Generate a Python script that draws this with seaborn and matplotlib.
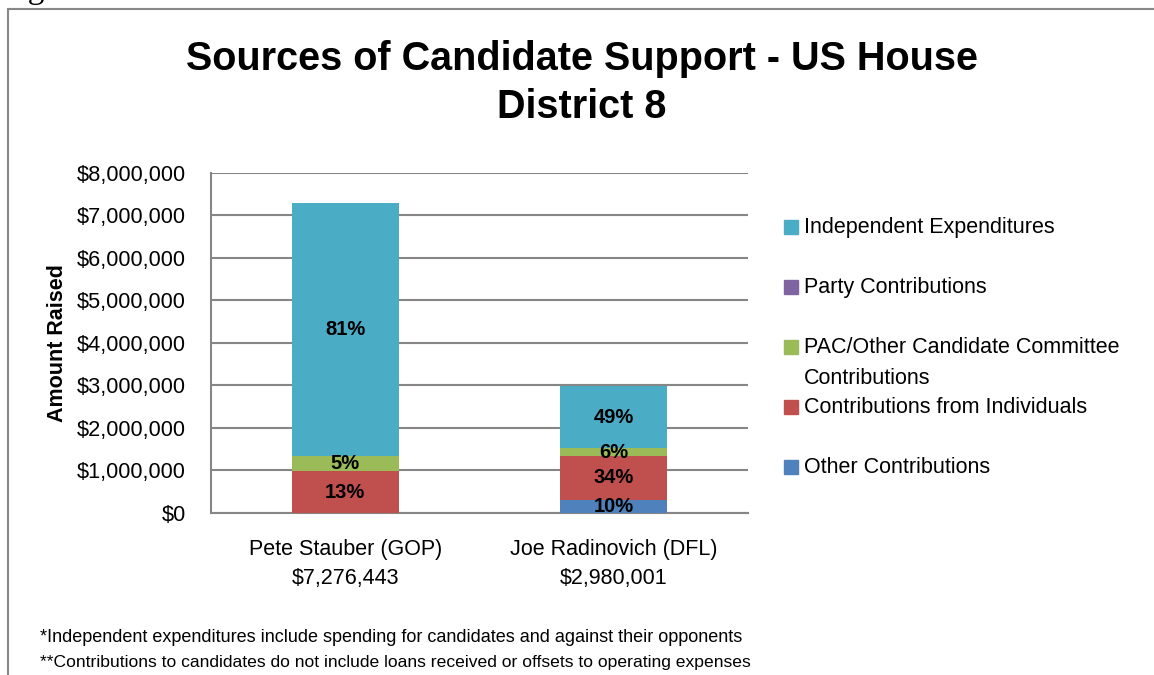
import textwrap

import matplotlib
matplotlib.use("Agg")
import matplotlib.pyplot as plt
from matplotlib.patches import Rectangle
from matplotlib.ticker import StrMethodFormatter, FixedLocator
import pandas as pd
import seaborn as sns

# ----------------------------------------------------------------------
# Data
# ----------------------------------------------------------------------
candidates = ["Pete Stauber (GOP)", "Joe Radinovich (DFL)"]
# stack order, bottom -> top
sources = [
    "Other Contributions",
    "Contributions from Individuals",
    "PAC/Other Candidate Committee Contributions",
    "Party Contributions",
    "Independent Expenditures",
]
other_contrib = [0, 310000]
individuals = [980000, 1025000]
pac_contrib = [370000, 190000]
party_contrib = [0, 0]
indep_exp = [5926443, 1455001]

colors = ["#4F81BD", "#C0504D", "#9BBB59", "#8064A2", "#4BACC6"]
y_ticks = [0, 1000000, 2000000, 3000000, 4000000, 5000000, 6000000, 7000000, 8000000]

footnotes = [
    "*Independent expenditures include spending for candidates and against their opponents",
    "**Contributions to candidates do not include loans received or offsets to operating expenses",
]

# ----------------------------------------------------------------------
# Build table
# ----------------------------------------------------------------------
df = pd.DataFrame({
    "candidate": candidates,
    sources[0]: other_contrib,
    sources[1]: individuals,
    sources[2]: pac_contrib,
    sources[3]: party_contrib,
    sources[4]: indep_exp,
})
df["total"] = df[sources].sum(axis=1)
cum = df[sources].cumsum(axis=1)
df["label"] = [f"{c}\n${t:,.0f}" for c, t in zip(df["candidate"], df["total"])]

# ----------------------------------------------------------------------
# Plot
# ----------------------------------------------------------------------
sns.set_style("white")
plt.rcParams["font.family"] = ["Liberation Sans", "DejaVu Sans"]
plt.rcParams["text.color"] = "black"
plt.rcParams["axes.labelcolor"] = "black"
plt.rcParams["xtick.labelcolor"] = "black"
plt.rcParams["ytick.labelcolor"] = "black"

fig = plt.figure(figsize=(11.54, 6.75), dpi=100)
ax = fig.add_axes([211 / 1154, 1 - 513 / 675, (748 - 211) / 1154, (513 - 172.5) / 675])

# stacked bars: draw cumulative heights from the top layer down
for i in range(len(sources) - 1, -1, -1):
    sns.barplot(x=df["label"], y=cum[sources[i]], color=colors[i], width=0.4,
                linewidth=0, saturation=1, ax=ax, zorder=3)

# percentage labels
for j in range(len(df)):
    bottom = 0
    for s in sources:
        val = df.loc[j, s]
        pct = val / df.loc[j, "total"] * 100
        if val > 0 and round(pct) >= 1:
            ax.text(j, bottom + val / 2, f"{pct:.0f}%", ha="center", va="center",
                    fontsize=14.5, fontweight="bold", zorder=5)
        bottom += val

ax.set_ylim(0, 8000000)
ax.set_xlim(-0.5, 1.5)
ax.yaxis.set_major_locator(FixedLocator(y_ticks))
ax.yaxis.set_major_formatter(StrMethodFormatter("${x:,.0f}"))
ax.grid(axis="y", color="#868686", linewidth=1.5, zorder=0)
ax.set_axisbelow(True)

# x ticks at category boundaries, labels under bar centres
ax.set_xticks([-0.5, 0.5, 1.5])
ax.set_xticklabels([])
ax.set_xticks([0, 1], minor=True)
ax.set_xticklabels(df["label"], minor=True, fontsize=15.5, linespacing=1.5)
ax.tick_params(axis="x", which="minor", length=0, pad=19)
ax.tick_params(axis="x", which="major", length=7, width=1.5, color="#868686", direction="out")
ax.tick_params(axis="y", length=6.5, width=1.5, color="#868686", labelsize=15.7, pad=11.5)

for side in ["top", "right"]:
    ax.spines[side].set_visible(False)
for side in ["left", "bottom"]:
    ax.spines[side].set_color("#868686")
    ax.spines[side].set_linewidth(1.5)

ax.set_xlabel("")
ax.set_ylabel("Amount Raised", fontsize=15.5, fontweight="bold")
ax.yaxis.set_label_coords(-0.266, 0.5)

# title
fig.text(582 / 1154, 1 - 83 / 675, "Sources of Candidate Support - US House\nDistrict 8",
         ha="center", va="center", fontsize=28.5, fontweight="bold", linespacing=1.35)

# legend (top entry first, as in the reference)
legend_y = [227, 287, 347, 407, 467]
for k, i in enumerate(range(len(sources) - 1, -1, -1)):
    yc = legend_y[k]
    fig.patches.append(Rectangle((784 / 1154, 1 - (yc + 7) / 675), 14 / 1154, 14 / 675,
                                 transform=fig.transFigure, color=colors[i]))
    fig.text(804 / 1154, 1 - (yc - 10) / 675, textwrap.fill(sources[i], 30),
             ha="left", va="top", fontsize=15.5, linespacing=1.6)

# footnotes
fig.text(40 / 1154, 1 - 638 / 675, footnotes[0], ha="left", va="center", fontsize=13)
fig.text(40 / 1154, 1 - 662 / 675, footnotes[1], ha="left", va="center", fontsize=12.6)

# frame around chart area and the partly cut caption above it
fig.patches.append(Rectangle((8 / 1154, -0.1), 1.2, 1.1 - 9 / 675, transform=fig.transFigure,
                             fill=False, edgecolor="#888888", linewidth=1.5))
fig.text(0, 1 + 2 / 675, "Figure 15", ha="left", va="baseline", fontsize=24,
         family="Liberation Serif")

fig.savefig("out.png", dpi=100)
